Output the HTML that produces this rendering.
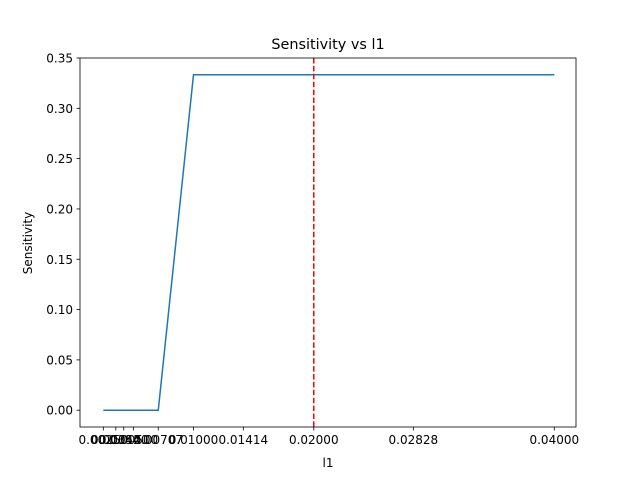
<!DOCTYPE html>
<html><head><meta charset="utf-8"><style>
body{margin:0;background:#fff;}
svg text{font-family:"DejaVu Sans","Liberation Sans",sans-serif;fill:#000;}
</style></head><body>
<svg id="chart" width="640" height="480" xmlns="http://www.w3.org/2000/svg">
<rect width="640" height="480" fill="#fff"/>
<text x="328" y="49" font-size="14.4" text-anchor="middle">Sensitivity vs l1</text>
<text x="328" y="467" font-size="12" text-anchor="middle">l1</text>
<text transform="translate(32,243) rotate(-90)" font-size="12" text-anchor="middle">Sensitivity</text>
<g id="g"></g>
</svg>
<script>
const xValues=[0.0025,0.00354,0.0042,0.005,0.00707,0.01,0.01414,0.02,0.02828,0.04];
const sensitivity=[0,0,0,0,0,0.3333,0.3333,0.3333,0.3333,0.3333];
const xTicks=[0.0025,0.00354,0.0042,0.005,0.00707,0.01,0.01414,0.02,0.02828,0.04];
const yTicks=[0,0.05,0.1,0.15,0.2,0.25,0.3,0.35];
const refLine=0.02;
const L=80,R=576,T=58,B=427;
const sx=v=>103.3+(v-0.0025)/(0.0375)*(554.3-103.3);
const sy=v=>410.2-v/0.35*(410.2-58);
const NS="http://www.w3.org/2000/svg";
const g=document.getElementById('g');
function mk(t,a){const e=document.createElementNS(NS,t);for(const k in a)e.setAttribute(k,a[k]);g.appendChild(e);return e;}
xTicks.forEach(v=>{const x=sx(v);
const t=mk('line',{x1:x,x2:x,y1:B,y2:B+3.5,stroke:'#000','stroke-width':0.8});


const l=mk('text',{x:x,y:B+17,'font-size':12,'text-anchor':'middle'});l.textContent=v.toFixed(5);

});
yTicks.forEach(v=>{const y=sy(v);
const t=mk('line',{x1:L-3.5,x2:L,y1:y,y2:y,stroke:'#000','stroke-width':0.8});


const l=mk('text',{x:L-7,y:y+4.5,'font-size':12,'text-anchor':'end'});l.textContent=v.toFixed(2);

});
const p=mk('polyline',{points:xValues.map((v,i)=>sx(v)+','+sy(sensitivity[i])).join(' '),fill:'none',stroke:'#1f77b4','stroke-width':1.5});


const r=mk('line',{x1:sx(refLine),x2:sx(refLine),y1:T,y2:B,stroke:'red','stroke-width':1.5,'stroke-dasharray':'5.5,2.4'});


const f=mk('rect',{x:L,y:T,width:R-L,height:B-T,fill:'none',stroke:'#000','stroke-width':0.8});


</script>
</body></html>
